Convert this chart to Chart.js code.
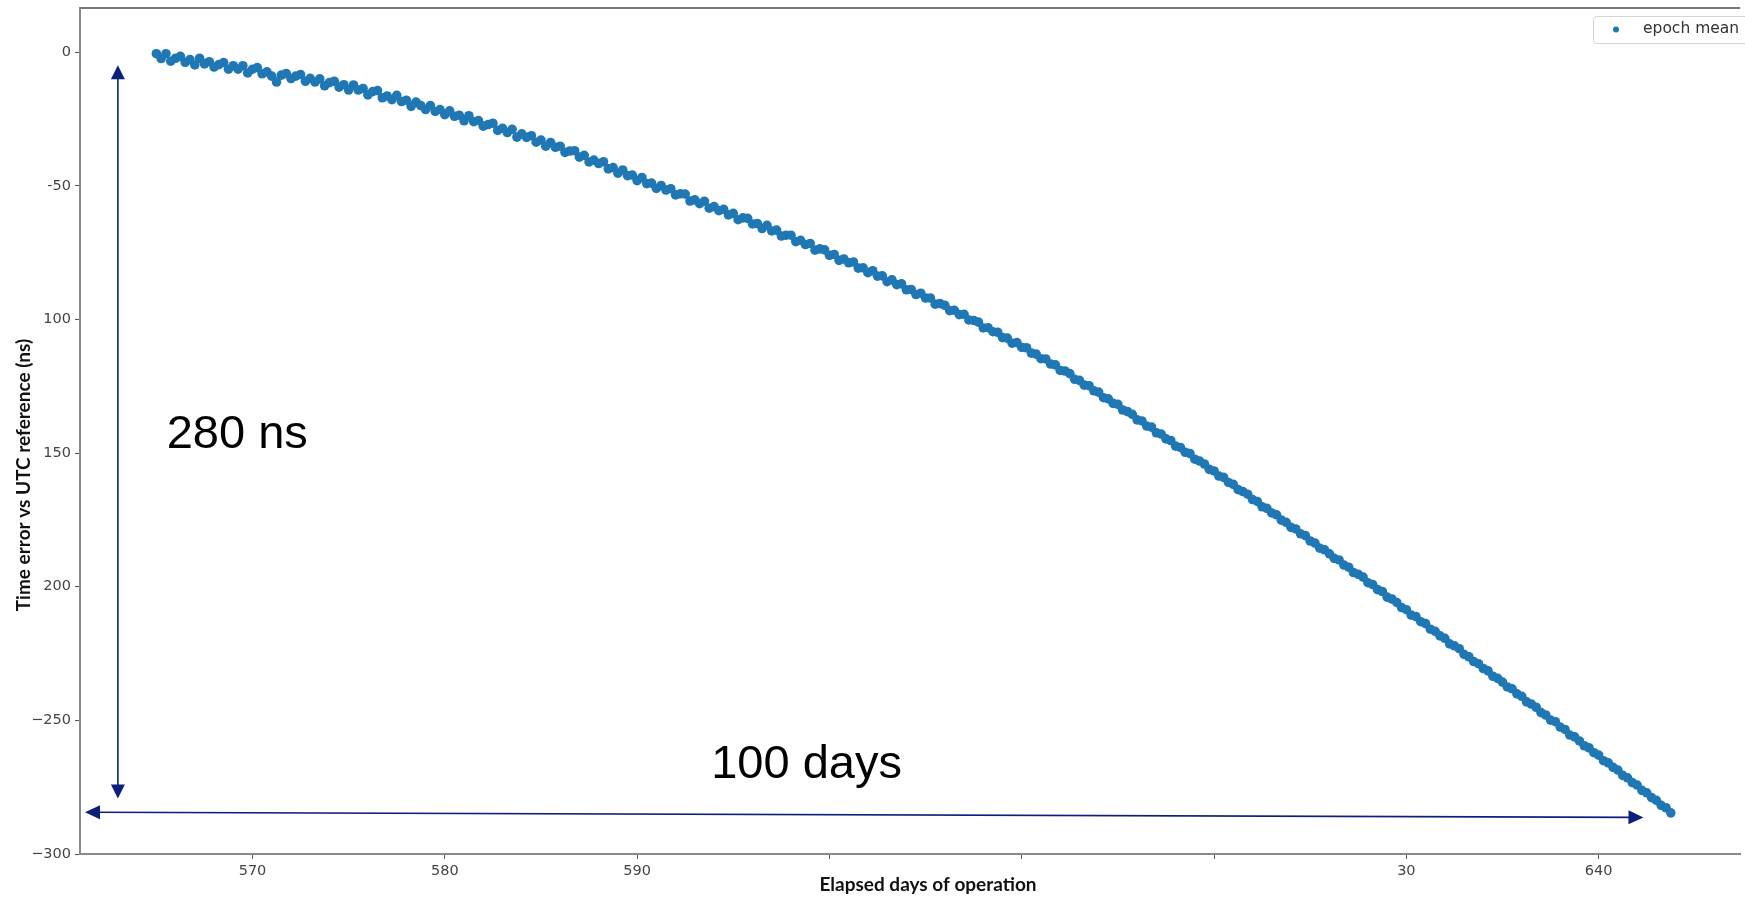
<!DOCTYPE html>
<html>
<head>
<meta charset="utf-8">
<title>Time error vs UTC reference</title>
<script src="https://cdn.jsdelivr.net/npm/chart.js@4.4.1/dist/chart.umd.min.js"></script>
<style>
  html, body { margin: 0; padding: 0; background: #ffffff; overflow: hidden; }
  #wrap { width: 1745px; height: 897px; position: relative; }
  canvas { display: block; }
</style>
</head>
<body>
<div id="wrap"><canvas id="c" width="1745" height="897"></canvas></div>
<script>
// ---------------- data ----------------
const seriesLabel = "epoch mean";

// elapsed day of each epoch (four epochs per day)
const epochDays = [
  565,565.25,565.5,565.75, 566,566.25,566.5,566.75, 567,567.25,567.5,567.75, 568,568.25,568.5,568.75,
  569,569.25,569.5,569.75, 570,570.25,570.5,570.75, 571,571.25,571.5,571.75, 572,572.25,572.5,572.75,
  573,573.25,573.5,573.75, 574,574.25,574.5,574.75, 575,575.25,575.5,575.75, 576,576.25,576.5,576.75,
  577,577.25,577.5,577.75, 578,578.25,578.5,578.75, 579,579.25,579.5,579.75, 580,580.25,580.5,580.75,
  581,581.25,581.5,581.75, 582,582.25,582.5,582.75, 583,583.25,583.5,583.75, 584,584.25,584.5,584.75,
  585,585.25,585.5,585.75, 586,586.25,586.5,586.75, 587,587.25,587.5,587.75, 588,588.25,588.5,588.75,
  589,589.25,589.5,589.75, 590,590.25,590.5,590.75, 591,591.25,591.5,591.75, 592,592.25,592.5,592.75,
  593,593.25,593.5,593.75, 594,594.25,594.5,594.75, 595,595.25,595.5,595.75, 596,596.25,596.5,596.75,
  597,597.25,597.5,597.75, 598,598.25,598.5,598.75, 599,599.25,599.5,599.75, 600,600.25,600.5,600.75,
  601,601.25,601.5,601.75, 602,602.25,602.5,602.75, 603,603.25,603.5,603.75, 604,604.25,604.5,604.75,
  605,605.25,605.5,605.75, 606,606.25,606.5,606.75, 607,607.25,607.5,607.75, 608,608.25,608.5,608.75,
  609,609.25,609.5,609.75, 610,610.25,610.5,610.75, 611,611.25,611.5,611.75, 612,612.25,612.5,612.75,
  613,613.25,613.5,613.75, 614,614.25,614.5,614.75, 615,615.25,615.5,615.75, 616,616.25,616.5,616.75,
  617,617.25,617.5,617.75, 618,618.25,618.5,618.75, 619,619.25,619.5,619.75, 620,620.25,620.5,620.75,
  621,621.25,621.5,621.75, 622,622.25,622.5,622.75, 623,623.25,623.5,623.75, 624,624.25,624.5,624.75,
  625,625.25,625.5,625.75, 626,626.25,626.5,626.75, 627,627.25,627.5,627.75, 628,628.25,628.5,628.75,
  629,629.25,629.5,629.75, 630,630.25,630.5,630.75, 631,631.25,631.5,631.75, 632,632.25,632.5,632.75,
  633,633.25,633.5,633.75, 634,634.25,634.5,634.75, 635,635.25,635.5,635.75, 636,636.25,636.5,636.75,
  637,637.25,637.5,637.75, 638,638.25,638.5,638.75, 639,639.25,639.5,639.75, 640,640.25,640.5,640.75,
  641,641.25,641.5,641.75, 642,642.25,642.5,642.75, 643,643.25,643.5,643.75
];

// epoch mean time error vs UTC reference (ns)
const timeErrorNs = [
  -0.6,-2.4,-0.6,-3.4, -2.3,-1.6,-3.8,-2.8, -4.8,-2.3,-4.4,-3.6, -5.6,-4.7,-3.9,-6.4,
  -5.1,-6.4,-5.1,-7.8, -6.4,-5.8,-8.1,-7.4, -9.0,-11.2,-8.6,-8.0, -9.9,-9.0,-8.4,-10.9,
  -9.8,-11.2,-10.0,-12.6, -11.4,-10.9,-13.1,-12.2, -14.2,-12.3,-14.2,-13.6, -16.0,-14.8,-14.4,-17.1,
  -16.4,-17.8,-16.2,-18.5, -18.0,-20.3,-18.7,-20.0, -21.5,-20.0,-22.2,-21.5, -23.4,-22.0,-24.0,-23.6,
  -25.7,-23.8,-26.0,-25.6, -27.7,-27.1,-26.6,-29.3, -28.5,-30.1,-28.9,-31.8, -30.6,-31.9,-31.3,-33.7,
  -32.9,-35.2,-33.8,-35.6, -35.2,-37.5,-37.0,-36.9, -39.3,-38.6,-41.1,-40.4, -41.7,-41.0,-43.7,-43.2,
  -45.3,-44.1,-46.2,-46.0, -48.1,-46.9,-49.2,-49.0, -51.0,-49.9,-51.6,-51.1, -53.4,-53.0,-53.1,-55.7,
  -55.3,-56.7,-55.8,-58.4, -57.8,-59.3,-58.8,-60.9, -60.3,-62.7,-62.0,-62.2, -64.3,-64.1,-66.0,-64.8,
  -66.9,-66.6,-68.8,-68.5, -68.5,-70.9,-70.4,-72.0, -71.6,-74.1,-73.6,-74.0, -76.0,-75.7,-77.9,-77.4,
  -78.8,-78.5,-80.8,-80.7, -82.5,-81.8,-83.8,-83.7, -85.9,-85.2,-87.0,-86.7, -88.9,-88.8,-90.7,-90.2,
  -92.0,-92.0,-94.3,-94.1, -94.7,-96.7,-96.6,-98.2, -98.1,-100.2,-100.4,-101.0, -103.2,-103.1,-104.6,-104.8,
  -106.8,-107.0,-108.9,-108.7, -110.5,-110.6,-112.6,-113.0, -114.7,-114.8,-116.7,-117.0, -119.1,-119.3,-120.3,-122.4,
  -122.8,-124.6,-124.8,-126.7, -127.2,-129.3,-129.7,-131.4, -131.8,-133.9,-134.5,-135.5, -137.6,-138.0,-139.9,-140.3,
  -142.4,-142.9,-144.7,-145.3, -147.4,-147.9,-149.7,-150.2, -152.3,-153.0,-154.1,-156.1, -156.7,-158.6,-159.1,-161.0,
  -161.7,-163.7,-164.4,-165.4, -167.4,-168.1,-170.1,-170.7, -172.4,-173.1,-175.1,-175.9, -177.8,-178.4,-180.2,-180.9,
  -182.9,-183.7,-185.6,-186.2, -187.7,-189.4,-190.0,-191.9, -192.7,-194.7,-195.4,-196.4, -198.5,-199.2,-201.1,-201.8,
  -203.9,-204.6,-205.9,-207.8, -208.6,-210.6,-211.2,-213.1, -213.8,-215.9,-216.7,-218.4, -219.3,-221.4,-222.1,-223.2,
  -225.3,-226.2,-228.0,-228.8, -230.6,-231.5,-233.5,-234.3, -235.7,-237.5,-238.2,-240.1, -241.0,-243.1,-243.9,-245.1,
  -247.1,-248.0,-249.9,-250.5, -252.5,-253.4,-255.5,-256.2, -257.7,-259.5,-260.3,-262.1, -263.0,-265.1,-265.9,-267.6,
  -268.6,-270.6,-271.5,-273.3, -274.2,-276.2,-277.1,-278.9, -279.9,-281.8,-282.7,-284.6
];

// tick positions and the labels exactly as printed in the picture
const xTickDays   = [570, 580, 590, 600, 610, 620, 630, 640];
const xTickLabels = ["570", "580", "590", "", "", "", "30", "640"];
const yTickValues = [-300, -250, -200, -150, -100, -50, 0];
const yTickLabels = ["\u2212300", "\u2212250", "200", "150", "100", "-50", "0"];

const xAxisTitle = "Elapsed days of operation";
const yAxisTitle = "Time error vs UTC reference (ns)";

// overlay annotations (text)
const spanNsText = "280 ns";
const spanDaysText = "100 days";

// ---------------- layout / style ----------------
const X_MIN = 561.03, X_MAX = 647.36, Y_MIN = -300, Y_MAX = 16.5;
const ARROW_COLOR = "#0c1f7a";
const POINT_COLOR = "#1f77b4";
const TICK_FONT = { family: "DejaVu Sans", size: 14.5 };

// annotation anchor positions in data coordinates
const vArrow = { x: 563.0, yTop: -4.9, yBottom: -279.2 };
const hArrow = { x0: 561.29, y0: -284.4, x1: 642.33, y1: -286.3 };
const spanNsPos = { x: 565.54, y: -148.2 };
const spanDaysPos = { x: 593.85, y: -271.7 };

function drawArrowHead(ctx, tipX, tipY, fromX, fromY, len, half) {
  const ang = Math.atan2(tipY - fromY, tipX - fromX);
  const bx = tipX - Math.cos(ang) * len, by = tipY - Math.sin(ang) * len;
  const px = -Math.sin(ang) * half, py = Math.cos(ang) * half;
  ctx.beginPath();
  ctx.moveTo(tipX, tipY);
  ctx.lineTo(bx + px, by + py);
  ctx.lineTo(bx - px, by - py);
  ctx.closePath();
  ctx.fill();
}

const overlayPlugin = {
  id: "overlay",
  afterDraw(chart) {
    const ctx = chart.ctx;
    const a = chart.chartArea;
    const xs = chart.scales.x, ys = chart.scales.y;
    ctx.save();

    // top frame line
    ctx.strokeStyle = "#777777";
    ctx.lineWidth = 2;
    ctx.beginPath();
    ctx.moveTo(a.left, a.top);
    ctx.lineTo(a.right, a.top);
    ctx.stroke();

    // axis titles
    ctx.fillStyle = "#111111";
    ctx.font = "bold 19px Lato";
    ctx.textAlign = "center";
    ctx.textBaseline = "middle";
    ctx.fillText(xAxisTitle, 928, 885);
    ctx.save();
    ctx.translate(24, 475);
    ctx.rotate(-Math.PI / 2);
    ctx.fillText(yAxisTitle, 0, 0);
    ctx.restore();

    // legend box
    const ds = chart.data.datasets[0];
    ctx.fillStyle = "#ffffff";
    ctx.strokeStyle = "#d4d4d4";
    ctx.lineWidth = 1;
    ctx.beginPath();
    ctx.roundRect(1593.5, 16.5, 180, 27, 3);
    ctx.fill();
    ctx.stroke();
    ctx.fillStyle = POINT_COLOR;
    ctx.beginPath();
    ctx.arc(1616, 29.5, 3, 0, Math.PI * 2);
    ctx.fill();
    ctx.fillStyle = "#333333";
    ctx.font = "15.5px 'DejaVu Sans'";
    ctx.textAlign = "left";
    ctx.textBaseline = "middle";
    ctx.fillText(ds.label, 1643, 29);

    // arrows
    ctx.strokeStyle = ARROW_COLOR;
    ctx.fillStyle = ARROW_COLOR;
    ctx.lineWidth = 1.6;
    const vx = xs.getPixelForValue(vArrow.x);
    const vyT = ys.getPixelForValue(vArrow.yTop);
    const vyB = ys.getPixelForValue(vArrow.yBottom);
    ctx.beginPath();
    ctx.moveTo(vx, vyT + 8);
    ctx.lineTo(vx, vyB - 8);
    ctx.stroke();
    drawArrowHead(ctx, vx, vyT, vx, vyB, 14, 7);
    drawArrowHead(ctx, vx, vyB, vx, vyT, 14, 7);

    const hx0 = xs.getPixelForValue(hArrow.x0), hy0 = ys.getPixelForValue(hArrow.y0);
    const hx1 = xs.getPixelForValue(hArrow.x1), hy1 = ys.getPixelForValue(hArrow.y1);
    ctx.beginPath();
    ctx.moveTo(hx0 + 8, hy0);
    ctx.lineTo(hx1 - 8, hy1);
    ctx.stroke();
    drawArrowHead(ctx, hx0, hy0, hx1, hy1, 15, 7);
    drawArrowHead(ctx, hx1, hy1, hx0, hy0, 15, 7);

    // annotation texts
    ctx.fillStyle = "#000000";
    ctx.font = "47px 'Liberation Sans'";
    ctx.textAlign = "left";
    ctx.textBaseline = "alphabetic";
    ctx.fillText(spanNsText, xs.getPixelForValue(spanNsPos.x), ys.getPixelForValue(spanNsPos.y));
    ctx.fillText(spanDaysText, xs.getPixelForValue(spanDaysPos.x), ys.getPixelForValue(spanDaysPos.y));

    ctx.restore();
  }
};

const points = epochDays.map((d, i) => ({ x: d, y: timeErrorNs[i] }));

new Chart(document.getElementById("c"), {
  type: "scatter",
  data: {
    datasets: [{
      label: seriesLabel,
      data: points,
      pointRadius: 4.8,
      pointHoverRadius: 4.8,
      pointBackgroundColor: POINT_COLOR,
      pointBorderWidth: 0,
      backgroundColor: POINT_COLOR,
      borderColor: POINT_COLOR
    }]
  },
  options: {
    responsive: false,
    animation: false,
    layout: { padding: { top: 8, right: 0, left: 0, bottom: 0 } },
    plugins: { legend: { display: false }, tooltip: { enabled: false } },
    scales: {
      x: {
        type: "linear",
        min: X_MIN, max: X_MAX,
        afterBuildTicks: s => { s.ticks = xTickDays.map(v => ({ value: v })); },
        afterFit: s => { s.height = 43; s.paddingLeft = 0; s.paddingRight = 0; s.paddingTop = 0; s.paddingBottom = 0; },
        grid: { display: true, drawOnChartArea: false, drawTicks: true, tickLength: 5, color: "#555555", lineWidth: 1 },
        border: { display: true, color: "#8a8a8a", width: 2 },
        ticks: {
          autoSkip: false, maxRotation: 0, padding: 4, color: "#444444", font: TICK_FONT,
          callback: (v, i) => xTickLabels[i]
        }
      },
      y: {
        type: "linear",
        min: Y_MIN, max: Y_MAX,
        afterBuildTicks: s => { s.ticks = yTickValues.map(v => ({ value: v })); },
        afterFit: s => { s.width = 80; s.paddingTop = 0; s.paddingBottom = 0; s.paddingLeft = 0; s.paddingRight = 0; },
        grid: { display: true, drawOnChartArea: false, drawTicks: true, tickLength: 5, color: "#555555", lineWidth: 1 },
        border: { display: true, color: "#8a8a8a", width: 2 },
        ticks: {
          autoSkip: false, padding: 4, color: "#444444", font: TICK_FONT,
          callback: (v, i) => yTickLabels[i]
        }
      }
    }
  },
  plugins: [overlayPlugin]
});
</script>
</body>
</html>
